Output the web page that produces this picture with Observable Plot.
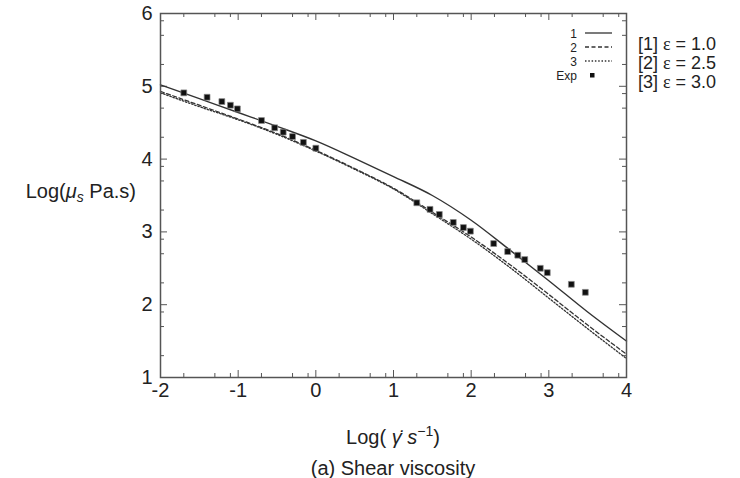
<!DOCTYPE html>
<html><head><meta charset="utf-8">
<script src="https://cdn.jsdelivr.net/npm/d3@7"></script>
<script src="https://cdn.jsdelivr.net/npm/@observablehq/plot@0.6"></script>
<style>body{margin:0;background:#fff}#chart{width:740px;height:478px}</style>
</head><body><div id="chart"></div>
<script>
// ---- data ----
const xGrid  = [-2, -1.5, -1, -0.5, 0, 0.5, 1, 1.5, 2, 2.5, 3, 3.5, 4];
const curve1 = [5.02, 4.83, 4.64, 4.45, 4.25, 4.01, 3.76, 3.50, 3.16, 2.75, 2.33, 1.90, 1.50];
const curve2 = [4.93, 4.74, 4.55, 4.35, 4.12, 3.87, 3.60, 3.27, 2.93, 2.55, 2.14, 1.72, 1.32];
const curve3 = [4.91, 4.72, 4.54, 4.34, 4.11, 3.86, 3.59, 3.25, 2.90, 2.51, 2.09, 1.67, 1.26];
const expX = [-1.70, -1.40, -1.21, -1.10, -1.01, -0.70, -0.53, -0.42, -0.30, -0.16, 0.00,
              1.30, 1.47, 1.59, 1.77, 1.90, 1.99, 2.29, 2.47, 2.60, 2.69, 2.89, 2.98, 3.29, 3.47];
const expY = [4.91, 4.85, 4.79, 4.74, 4.69, 4.53, 4.43, 4.37, 4.31, 4.23, 4.15,
              3.40, 3.31, 3.24, 3.13, 3.06, 3.01, 2.84, 2.73, 2.68, 2.62, 2.50, 2.44, 2.28, 2.17];
const xMajor = [-2, -1, 0, 1, 2, 3, 4];
const yMajor = [1, 2, 3, 4, 5, 6];
const minorOffsets = [0.3, 0.7, 0.9];
const legendLabels = ["1", "2", "3", "Exp"];
const epsIds = ["[1]", "[2]", "[3]"];
const epsValues = ["1.0", "2.5", "3.0"];

// ---- layout ----
const W = 740, H = 478;
const mL = 160, mR = 114, mT = 13, mB = 101;
const fw = W - mL - mR, fh = H - mT - mB;
const ink = "#222";
const font = "'Liberation Sans', Arial, Helvetica, sans-serif";

const xMinor = xMajor.slice(0, -1).flatMap(k => minorOffsets.map(o => k + o));
const yMinor = yMajor.slice(0, -1).flatMap(k => minorOffsets.map(o => k + o));
const toRows = ys => xGrid.map((x, i) => ({x, y: ys[i]}));
const expRows = expX.map((x, i) => ({x, y: expY[i]}));

const plot = Plot.plot({
  width: W, height: H,
  marginLeft: mL, marginRight: mR, marginTop: mT, marginBottom: mB,
  x: {domain: [-2, 4]},
  y: {domain: [1, 6]},
  style: {fontFamily: font, fontSize: "20px", color: ink, background: "#fff"},
  marks: [
    Plot.tickX(xMajor, {x: d => d, insetTop: fh - 7, stroke: "#555"}),
    Plot.tickX(xMajor, {x: d => d, insetBottom: fh - 7, stroke: "#555"}),
    Plot.tickX(xMinor, {x: d => d, insetTop: fh - 4, stroke: "#555"}),
    Plot.tickX(xMinor, {x: d => d, insetBottom: fh - 4, stroke: "#555"}),
    Plot.tickY(yMajor, {y: d => d, insetRight: fw - 7, stroke: "#555"}),
    Plot.tickY(yMajor, {y: d => d, insetLeft: fw - 7, stroke: "#555"}),
    Plot.tickY(yMinor, {y: d => d, insetRight: fw - 4, stroke: "#555"}),
    Plot.tickY(yMinor, {y: d => d, insetLeft: fw - 4, stroke: "#555"}),
    Plot.axisX(xMajor, {anchor: "bottom", tickSize: 0, tickPadding: 5, fontSize: 20, label: null, tickFormat: d => String(d)}),
    Plot.axisY(yMajor, {anchor: "left", tickSize: 0, tickPadding: 8, fontSize: 20, label: null, tickFormat: d => String(d)}),
    Plot.line(toRows(curve3), {x: "x", y: "y", curve: "monotone-x", stroke: "#333", strokeWidth: 1.3, strokeDasharray: "1.5,1.8"}),
    Plot.line(toRows(curve2), {x: "x", y: "y", curve: "monotone-x", stroke: "#333", strokeWidth: 1.3, strokeDasharray: "4,2.5"}),
    Plot.line(toRows(curve1), {x: "x", y: "y", curve: "monotone-x", stroke: "#333", strokeWidth: 1.4}),
    Plot.dot(expRows, {x: "x", y: "y", symbol: "square", r: 3.3, fill: "#111", stroke: "#888", strokeWidth: 0.7}),
    Plot.frame({stroke: "#555", strokeWidth: 1.5})
  ]
});
document.getElementById("chart").appendChild(plot);

// ---- annotations ----
const svg = d3.select(plot);
const g = svg.append("g").attr("font-family", font).attr("fill", ink).attr("text-anchor", "start");

// y-axis label
const yl = g.append("text").attr("x", 136).attr("y", 198).attr("text-anchor", "end").attr("font-size", 20);
yl.append("tspan").text("Log(");
yl.append("tspan").attr("font-style", "italic").text("μ");
yl.append("tspan").attr("font-style", "italic").attr("font-size", 14).attr("dy", 4).text("s");
yl.append("tspan").attr("dy", -4).text(" Pa.s)");

// x-axis label
const cx = mL + fw / 2;
const xl = g.append("text").attr("x", cx).attr("y", 444).attr("text-anchor", "middle").attr("font-size", 20);
xl.append("tspan").text("Log( ");
xl.append("tspan").attr("font-style", "italic").text("γ̇");
xl.append("tspan").text(" ");
xl.append("tspan").attr("font-style", "italic").text("s");
xl.append("tspan").attr("font-size", 14).attr("dy", -8).text("−1");
xl.append("tspan").attr("dy", 8).text(")");

// caption
g.append("text").attr("x", cx).attr("y", 475).attr("text-anchor", "middle").attr("font-size", 20).text("(a) Shear viscosity");

// right-side epsilon labels
epsIds.forEach((id, i) => {
  const t = g.append("text").attr("x", mL + fw + 12).attr("y", 50 + i * 19).attr("font-size", 18);
  t.append("tspan").text(id + " ");
  t.append("tspan").attr("font-family", "'Liberation Serif', 'DejaVu Serif', serif").text("ε");
  t.append("tspan").text(" = " + epsValues[i]);
});

// inside legend
const lx = mL + fw - 49, ly0 = mT + 20, lstep = 14;
const dashes = [null, "4,2.5", "1.5,1.8"];
legendLabels.forEach((t, i) => {
  const y = ly0 + i * lstep;
  g.append("text").attr("x", lx).attr("y", y + 4.5).attr("text-anchor", "end").attr("font-size", 12).text(t);
  if (i < 3) {
    const ln = g.append("line").attr("x1", lx + 8).attr("x2", lx + 35).attr("y1", y).attr("y2", y)
      .attr("stroke", "#333").attr("stroke-width", 1.3);
    if (dashes[i]) ln.attr("stroke-dasharray", dashes[i]);
  } else {
    g.append("rect").attr("x", lx + 13).attr("y", y - 2).attr("width", 4.5).attr("height", 4.5).attr("fill", "#111");
  }
});
</script>
</body></html>
